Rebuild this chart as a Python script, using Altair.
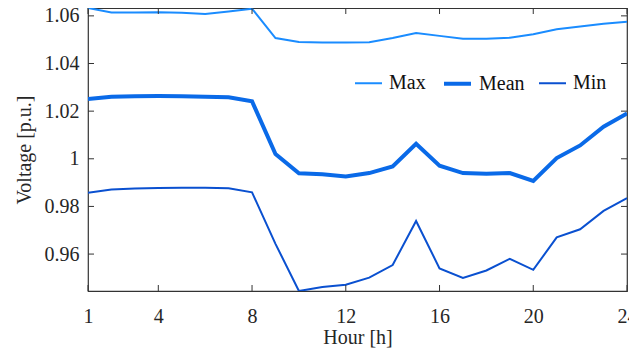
import altair as alt
import pandas as pd

hours = list(range(1, 25))
v_max = [1.0633, 1.0614, 1.0614, 1.0615, 1.0613, 1.0608, 1.0618, 1.0630,
         1.0507, 1.0490, 1.0488, 1.0488, 1.0489, 1.0507, 1.0528, 1.0516,
         1.0504, 1.0504, 1.0508, 1.0523, 1.0544, 1.0555, 1.0567, 1.0575]
v_mean = [1.0251, 1.0260, 1.0263, 1.0264, 1.0263, 1.0260, 1.0258, 1.0241,
          1.0020, 0.9939, 0.9935, 0.9926, 0.9940, 0.9968, 1.0063, 0.9971,
          0.9940, 0.9937, 0.9940, 0.9907, 1.0003, 1.0056, 1.0135, 1.0190]
v_min = [0.9857, 0.9871, 0.9875, 0.9877, 0.9878, 0.9878, 0.9876, 0.9859,
         0.9643, 0.9445, 0.9462, 0.9471, 0.9501, 0.9554, 0.9739, 0.9540,
         0.9500, 0.9531, 0.9580, 0.9534, 0.9670, 0.9704, 0.9781, 0.9835]

series_names = ["Max", "Mean", "Min"]
series_colors = ["#1a8cff", "#0a6ae8", "#0a50d0"]
series_widths = [2, 4, 2]

x_ticks = [1, 4, 8, 12, 16, 20, 24]
y_ticks = [0.96, 0.98, 1.0, 1.02, 1.04, 1.06]

W, H = 539, 283
FONT = "Liberation Serif"
AX = "#333333"

rows = []
for name, vals in zip(series_names, [v_max, v_mean, v_min]):
    for h, v in zip(hours, vals):
        rows.append({"Hour": h, "Voltage": v, "Series": name})
df = pd.DataFrame(rows)

ymin = min(v_max + v_mean + v_min)
ymax = max(v_max + v_mean + v_min)

xscale = alt.Scale(domain=[1, 24], nice=False, zero=False)
yscale = alt.Scale(domain=[ymin, ymax], nice=False, zero=False)

legend = alt.Legend(orient="none", legendX=266, legendY=60,
                    direction="horizontal", title=None,
                    symbolSize=729, labelOffset=6,
                    columnPadding=10, labelFontSize=20,
                    labelFont=FONT, labelColor="#111111")

lines = alt.Chart(df).mark_line(clip=True).encode(
    x=alt.X("Hour:Q", scale=xscale,
            axis=alt.Axis(values=x_ticks, title="Hour [h]", ticks=False, domain=False,
                          grid=False, labelPadding=15, titlePadding=1, labelFlush=False)),
    y=alt.Y("Voltage:Q", scale=yscale,
            axis=alt.Axis(values=y_ticks, title="Voltage [p.u.]", ticks=False, domain=False,
                          grid=False, format="~g", labelPadding=9, titlePadding=10,
                          labelFlush=False)),
    color=alt.Color("Series:N",
                    scale=alt.Scale(domain=series_names, range=series_colors),
                    legend=legend),
    strokeWidth=alt.StrokeWidth("Series:N",
                                scale=alt.Scale(type="ordinal", domain=series_names,
                                                range=series_widths),
                                legend=legend),
    order=alt.Order("Series:N"),
)

xt = pd.DataFrame({"t": x_ticks})
yt = pd.DataFrame({"t": y_ticks})
TL = 6
tick_style = dict(color=AX, strokeWidth=1)

bx = alt.Chart(xt).mark_rule(**tick_style).encode(
    x=alt.X("t:Q", scale=xscale), y=alt.value(H), y2=alt.value(H - TL))
tx = alt.Chart(xt).mark_rule(**tick_style).encode(
    x=alt.X("t:Q", scale=xscale), y=alt.value(0), y2=alt.value(TL))
ly = alt.Chart(yt).mark_rule(**tick_style).encode(
    y=alt.Y("t:Q", scale=yscale), x=alt.value(0), x2=alt.value(TL))
ry = alt.Chart(yt).mark_rule(**tick_style).encode(
    y=alt.Y("t:Q", scale=yscale), x=alt.value(W), x2=alt.value(W - TL))

chart = alt.layer(lines, bx, tx, ly, ry).properties(
    width=W, height=H,
    autosize=alt.AutoSizeParams(type="none"),
    padding={"left": 80, "top": 0, "right": 2, "bottom": 57},
    background="white",
).configure_view(
    stroke=AX, strokeWidth=1.2
).configure_axis(
    labelFont=FONT, titleFont=FONT, labelFontSize=20, titleFontSize=20,
    labelColor="#262626", titleColor="#262626", titleFontWeight="normal",
)

chart.save("out.html", embed_options={"renderer": "svg", "actions": False})
